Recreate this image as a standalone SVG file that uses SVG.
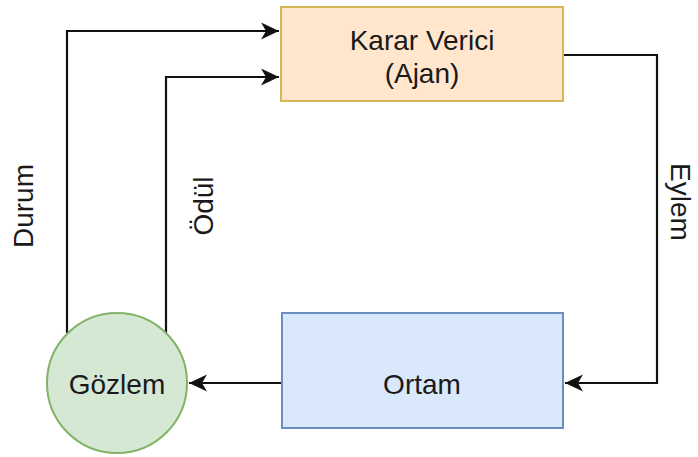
<svg xmlns="http://www.w3.org/2000/svg" width="698" height="457" viewBox="0 0 698 457">
  <defs>
    <marker id="arrow" markerUnits="userSpaceOnUse" markerWidth="20" markerHeight="18" refX="18" refY="8.5" orient="auto">
      <path d="M0,0 L18,8.5 L0,17 L5,8.5 Z" fill="#111"/>
    </marker>
    <style>
      .lbl { font-family: "Liberation Sans", Arial, Helvetica, sans-serif; font-size: 28px; fill: #1a1a1a; }
      .edge { fill: none; stroke: #111; stroke-width: 2.2; }
    </style>
  </defs>
  <rect width="698" height="457" fill="#ffffff"/>

  <g id="connectors">
    <!-- Gözlem -> Karar Verici (state) -->
    <path class="edge" d="M67,333 V31 H279" marker-end="url(#arrow)"/>
    <!-- Gözlem -> Karar Verici (reward) -->
    <path class="edge" d="M166,333 V77 H279" marker-end="url(#arrow)"/>
    <!-- Karar Verici -> Ortam (action) -->
    <path class="edge" d="M563,55 H657 V383 H565" marker-end="url(#arrow)"/>
    <!-- Ortam -> Gözlem -->
    <path class="edge" d="M281,383 H189" marker-end="url(#arrow)"/>
    <text class="lbl" transform="translate(33,206) rotate(-90)" text-anchor="middle">Durum</text>
    <text class="lbl" transform="translate(213,206) rotate(-90)" text-anchor="middle">Ödül</text>
    <text class="lbl" transform="translate(671,202) rotate(90)" text-anchor="middle">Eylem</text>
  </g>

  <g id="agent">
    <rect x="281" y="7" width="282" height="94" fill="#ffe6cc" stroke="#d6b656" stroke-width="2"/>
    <text class="lbl" x="422" y="50" text-anchor="middle">Karar Verici</text>
    <text class="lbl" x="422" y="83" text-anchor="middle">(Ajan)</text>
  </g>

  <g id="environment">
    <rect x="282" y="313" width="281" height="115" fill="#dae8fc" stroke="#6c8ebf" stroke-width="2"/>
    <text class="lbl" x="422" y="394" text-anchor="middle">Ortam</text>
  </g>

  <g id="observation">
    <circle cx="117" cy="383" r="70" fill="#d5e8d4" stroke="#82b366" stroke-width="2"/>
    <text class="lbl" x="117" y="394" text-anchor="middle">Gözlem</text>
  </g>
</svg>
